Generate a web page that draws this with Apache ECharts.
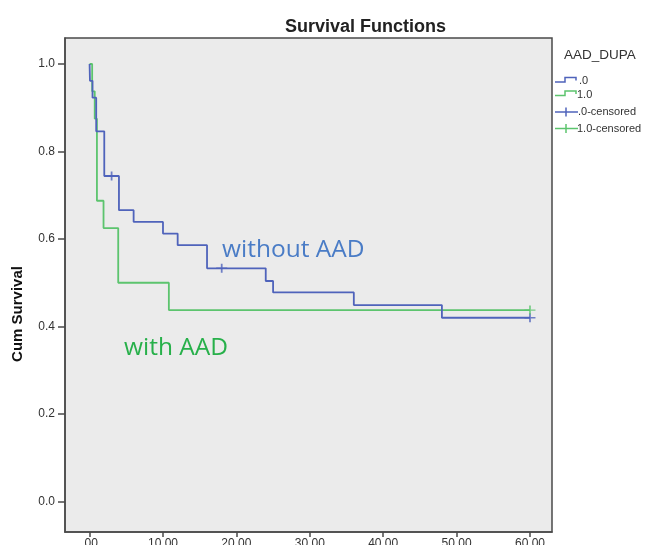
<!DOCTYPE html>
<html>
<head>
<meta charset="utf-8">
<title>Survival Functions</title>
<script src="https://cdn.jsdelivr.net/npm/echarts@6.0.0/dist/echarts.min.js"></script>
<style>
  html, body { margin: 0; padding: 0; background: #fff; }
  #main { width: 658px; height: 545px; }
</style>
</head>
<body>
<div id="main"></div>
<script>
// group .0 (without AAD): event times and survival after each step
var noAadTimes = [0, 0.05, 0.4, 0.9, 2, 4, 6, 10, 12, 16, 24, 25, 36, 48, 60];
var noAadSurv = [1, 0.9615, 0.923, 0.846, 0.744, 0.666, 0.639, 0.6125, 0.586, 0.533, 0.504, 0.478, 0.449, 0.42, 0.42];
var noAadCensTimes = [3, 18, 60];
var noAadCensSurv = [0.744, 0.533, 0.42];

// group 1.0 (with AAD)
var aadTimes = [0, 0.35, 0.7, 1.0, 1.9, 3.9, 10.8, 60];
var aadSurv = [1, 0.9375, 0.875, 0.6875, 0.625, 0.5, 0.4375, 0.4375];
var aadCensTimes = [60];
var aadCensSurv = [0.4375];

var xTicks = [0, 10, 20, 30, 40, 50, 60];
var xTickLabels = ['.00', '10.00', '20.00', '30.00', '40.00', '50.00', '60.00'];
var yTicks = [0, 0.2, 0.4, 0.6, 0.8, 1.0];
var yTickLabels = ['0.0', '0.2', '0.4', '0.6', '0.8', '1.0'];

var blue = '#4f63bb';
var green = '#5cc46e';
var axisColor = '#4a4a4a';

function pairs(xs, ys) {
  return xs.map(function (x, i) { return [x, ys[i]]; });
}

var plus = 'path://M0,4.2 L10,4.2 L10,5.8 L0,5.8 Z M4.2,0 L5.8,0 L5.8,10 L4.2,10 Z';

var chart = echarts.init(document.getElementById('main'), null, { renderer: 'canvas' });

var option = {
  animation: false,
  backgroundColor: '#fff',
  title: {
    text: 'Survival Functions',
    left: 280,
    top: 13,
    textStyle: { fontFamily: 'Liberation Sans', fontWeight: 'bold', fontSize: 18, color: '#222' }
  },
  grid: {
    left: 65, right: 106, top: 38, bottom: 13,
    outerBoundsMode: 'none',
    containLabel: false,
    show: true,
    backgroundColor: '#ebebeb',
    borderColor: axisColor,
    borderWidth: 1.5
  },
  xAxis: {
    type: 'value',
    min: -3.35,
    max: 63,
    splitLine: { show: false },
    axisLine: { onZero: false, lineStyle: { color: axisColor, width: 1.5 } },
    axisTick: { show: true, length: 5, customValues: xTicks, lineStyle: { color: axisColor, width: 1.5 } },
    axisLabel: {
      customValues: xTicks,
      margin: 6,
      fontFamily: 'Liberation Sans',
      fontSize: 12,
      color: '#333',
      formatter: function (v) {
        var i = xTicks.indexOf(v);
        return i >= 0 ? xTickLabels[i] : '';
      }
    }
  },
  yAxis: {
    type: 'value',
    min: -0.0696,
    max: 1.0594,
    splitLine: { show: false },
    axisLine: { show: true, onZero: false, lineStyle: { color: axisColor, width: 1.5 } },
    axisTick: { show: true, length: 7, customValues: yTicks, lineStyle: { color: axisColor, width: 1.5 } },
    axisLabel: {
      customValues: yTicks,
      margin: 10,
      fontFamily: 'Liberation Sans',
      fontSize: 12,
      color: '#333',
      formatter: function (v) {
        var i = yTicks.findIndex(function (t) { return Math.abs(t - v) < 1e-6; });
        return i >= 0 ? yTickLabels[i] : '';
      }
    }
  },
  series: [
    {
      name: '.0',
      type: 'line',
      step: 'end',
      showSymbol: false,
      data: pairs(noAadTimes, noAadSurv),
      lineStyle: { color: blue, width: 1.8 },
      z: 3
    },
    {
      name: '1.0',
      type: 'line',
      step: 'end',
      showSymbol: false,
      data: pairs(aadTimes, aadSurv),
      lineStyle: { color: green, width: 1.8 },
      z: 2
    },
    {
      name: '.0-censored',
      type: 'scatter',
      symbol: plus,
      symbolSize: [11, 9],
      itemStyle: { color: blue },
      data: pairs(noAadCensTimes, noAadCensSurv),
      z: 4
    },
    {
      name: '1.0-censored',
      type: 'scatter',
      symbol: plus,
      symbolSize: [11, 9],
      itemStyle: { color: green },
      data: pairs(aadCensTimes, aadCensSurv),
      z: 4
    }
  ],
  graphic: [
    // y axis title
    {
      type: 'text', x: 18, y: 314, rotation: Math.PI / 2,
      style: {
        text: 'Cum Survival', align: 'center', verticalAlign: 'middle',
        font: 'bold 15px "Liberation Sans"', fill: '#111'
      }
    },
    // annotations
    {
      type: 'text', x: 222, y: 250,
      style: {
        text: 'without AAD', align: 'left', verticalAlign: 'middle',
        font: '24.5px "Open Sans"', fill: '#4a7cc6'
      }
    },
    {
      type: 'text', x: 124, y: 348,
      style: {
        text: 'with AAD', align: 'left', verticalAlign: 'middle',
        font: '24.5px "Open Sans"', fill: '#27b04a'
      }
    },
    // legend
    {
      type: 'text', x: 564, y: 55,
      style: { text: 'AAD_DUPA', align: 'left', verticalAlign: 'middle', font: '13.5px "Liberation Sans"', fill: '#333' }
    },
    {
      type: 'polyline',
      shape: { points: [[555, 82], [565, 82], [565, 77.5], [576, 77.5], [576, 80.5]] },
      style: { stroke: blue, lineWidth: 1.5, fill: null }
    },
    {
      type: 'text', x: 579, y: 81,
      style: { text: '.0', align: 'left', verticalAlign: 'middle', font: '11px "Liberation Sans"', fill: '#333' }
    },
    {
      type: 'polyline',
      shape: { points: [[555, 95.5], [565, 95.5], [565, 91], [576, 91], [576, 94]] },
      style: { stroke: green, lineWidth: 1.5, fill: null }
    },
    {
      type: 'text', x: 577, y: 94.5,
      style: { text: '1.0', align: 'left', verticalAlign: 'middle', font: '11px "Liberation Sans"', fill: '#333' }
    },
    {
      type: 'line', shape: { x1: 555, y1: 112, x2: 578, y2: 112 },
      style: { stroke: blue, lineWidth: 1.5 }
    },
    {
      type: 'line', shape: { x1: 566, y1: 107.5, x2: 566, y2: 116.5 },
      style: { stroke: blue, lineWidth: 1.5 }
    },
    {
      type: 'text', x: 578, y: 112,
      style: { text: '.0-censored', align: 'left', verticalAlign: 'middle', font: '11px "Liberation Sans"', fill: '#333' }
    },
    {
      type: 'line', shape: { x1: 555, y1: 128.5, x2: 578, y2: 128.5 },
      style: { stroke: green, lineWidth: 1.5 }
    },
    {
      type: 'line', shape: { x1: 566, y1: 124, x2: 566, y2: 133 },
      style: { stroke: green, lineWidth: 1.5 }
    },
    {
      type: 'text', x: 577, y: 128.5,
      style: { text: '1.0-censored', align: 'left', verticalAlign: 'middle', font: '11px "Liberation Sans"', fill: '#333' }
    }
  ]
};

chart.setOption(option);
</script>
</body>
</html>
